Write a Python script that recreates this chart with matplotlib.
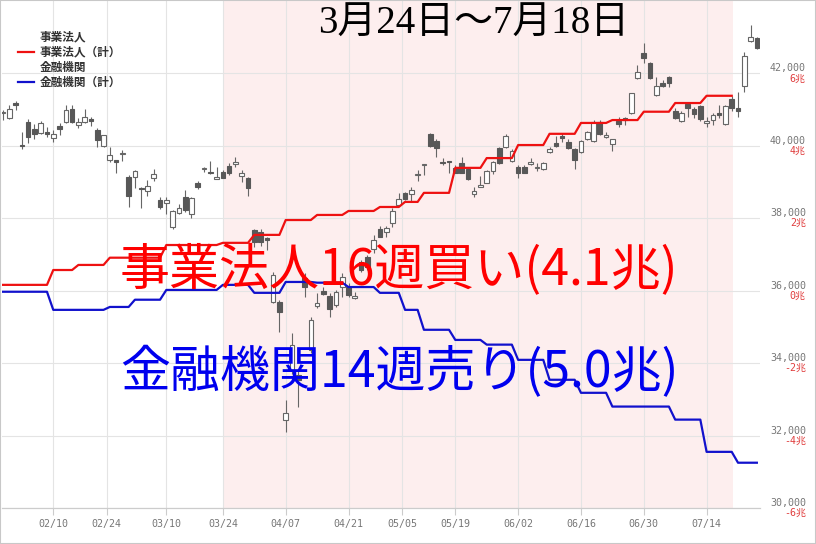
import numpy as np
import pandas as pd
import matplotlib
matplotlib.use('Agg')
import matplotlib.pyplot as plt
from matplotlib.lines import Line2D
from matplotlib.patches import Rectangle

# 取引日 (2025/01/29 - 2025/07/25)
start, end = '2025-01-29', '2025-07-25'
holidays = ['2025-02-11', '2025-02-24', '2025-03-20', '2025-04-29',
            '2025-05-05', '2025-05-06', '2025-07-21']

# 日足 (四本値)
opens = [40900, 40770, 41180, 40010, 40660, 40460, 40350, 40380, 40220, 40550,
         40660, 41020, 40570, 40660, 40740, 40440, 40000, 39610, 39590, 39760,
         39140, 39140, 38820, 38750, 39110, 38510, 38420, 37760, 38150, 38590,
         38120, 38970, 39350, 39260, 39090, 39280, 39440, 39510, 39170, 39110,
         37680, 37620, 37460, 35690, 35690, 32440, 33820, 33680, 36350, 34370,
         35580, 36000, 35860, 35610, 36110, 36110, 35800, 36800, 36930, 37150,
         37710, 37620, 37870, 38370, 38700, 38670, 39180, 39480, 40330, 40130,
         39560, 39560, 39390, 39530, 39360, 38670, 38880, 38970, 39310, 39940,
         39970, 39580, 39420, 39420, 39500, 39380, 39360, 39830, 40080, 40270,
         40110, 39910, 39830, 40190, 40130, 40660, 40260, 40050, 40690, 40770,
         40910, 41870, 42560, 42290, 41400, 41730, 41900, 40960, 40690, 41150,
         41020, 41100, 40630, 40710, 40910, 40600, 41290, 41040, 41650, 42890,
         42980]
highs = [40990, 41130, 41240, 40380, 40740, 40600, 40690, 40520, 40440, 40630,
         41130, 41130, 40770, 41020, 40800, 40490, 40310, 39970, 39610, 39890,
         39200, 39330, 38860, 39060, 39360, 38590, 38590, 38220, 38400, 38780,
         38590, 39030, 39420, 39580, 39420, 39330, 39530, 39690, 39330, 39140,
         37710, 37710, 37470, 36520, 35750, 32990, 34840, 33820, 36490, 35280,
         35940, 36110, 35940, 36020, 36490, 36220, 35970, 36850, 36990, 37540,
         37790, 37790, 38290, 38700, 38730, 38860, 39330, 39510, 40350, 40190,
         39660, 39570, 39470, 39690, 39390, 38860, 39170, 39330, 39580, 39970,
         40330, 39910, 39470, 39470, 39660, 39530, 39540, 39970, 40270, 40350,
         40190, 39940, 40160, 40400, 40710, 40710, 40380, 40200, 40800, 40800,
         41470, 42230, 42840, 42300, 41900, 41820, 41930, 41040, 40960, 41210,
         41070, 41130, 40800, 40910, 41130, 41130, 41370, 41490, 42590, 43330,
         43000]
lows = [40710, 40740, 40990, 39910, 40080, 40190, 40330, 40240, 40110, 40300,
        40640, 40640, 40490, 40630, 40550, 39970, 39970, 39550, 39250, 39580,
        38310, 38840, 38290, 38620, 39030, 38260, 38120, 37710, 38120, 38170,
        38010, 38810, 39280, 39220, 39070, 39100, 39200, 39420, 39000, 38620,
        37210, 37240, 37130, 35660, 34860, 32110, 33710, 32800, 35830, 34290,
        35530, 35880, 35280, 35550, 35830, 35830, 35770, 36520, 36580, 37040,
        37470, 37480, 37760, 38340, 38510, 38450, 39030, 39200, 39970, 39690,
        39470, 39250, 39240, 39240, 39060, 38590, 38860, 38960, 39220, 39500,
        39940, 39550, 39110, 39240, 39470, 39310, 39330, 39800, 39970, 40110,
        39910, 39360, 39810, 40160, 40110, 40300, 40220, 39860, 40520, 40570,
        40880, 41840, 42290, 41840, 41370, 41620, 41620, 40740, 40660, 40800,
        40770, 40690, 40520, 40570, 40770, 40570, 40960, 40800, 41490, 42860,
        42670]
closes = [40920, 41020, 41130, 39980, 40240, 40330, 40630, 40330, 40330, 40460,
          40990, 40660, 40660, 40800, 40690, 40160, 40300, 39750, 39570, 39790,
          38620, 39310, 38800, 38890, 39220, 38310, 38510, 38200, 38290, 38230,
          38560, 38860, 39370, 39240, 39140, 39110, 39250, 39540, 39250, 38840,
          37350, 37350, 37400, 36440, 35420, 32630, 34510, 33540, 36110, 35200,
          35660, 35910, 35500, 35970, 36380, 35880, 35860, 36580, 36660, 37400,
          37480, 37730, 38200, 38530, 38530, 38780, 39210, 39500, 40000, 39940,
          39540, 39550, 39250, 39250, 39090, 38750, 38900, 39310, 39550, 39530,
          40270, 39860, 39250, 39250, 39550, 39400, 39530, 39910, 40000, 40220,
          39940, 39610, 40130, 40380, 40660, 40330, 40280, 40190, 40600, 40710,
          41460, 42040, 42420, 41870, 41650, 41650, 41730, 40770, 40910, 41040,
          40880, 40740, 40690, 40850, 40850, 41100, 41040, 40960, 42480, 43000,
          42700]

# 週次の累計 (兆円)  週の開始日 2025/01/27 から
corp_cum = [0.16, 0.16, 0.57, 0.71, 0.91, 0.91, 1.26, 1.26, 1.32, 1.54,
            1.95, 2.09, 2.20, 2.31, 2.45, 2.70, 3.39, 3.66, 4.02, 4.33,
            4.63, 4.71, 4.94, 5.18, 5.38]
fin_cum = [-0.03, -0.03, -0.53, -0.53, -0.45, -0.25, 0.02, 0.02, 0.16, -0.06,
           0.24, 0.22, 0.10, -0.06, -0.53, -1.08, -1.36, -1.49, -1.91, -2.46,
           -2.82, -3.20, -3.20, -3.56, -4.45, -4.75]

tick_dates = ['2025-02-10', '2025-02-24', '2025-03-10', '2025-03-24', '2025-04-07',
              '2025-04-21', '2025-05-05', '2025-05-19', '2025-06-02', '2025-06-16',
              '2025-06-30', '2025-07-14']
tick_labels = ['02/10', '02/24', '03/10', '03/24', '04/07', '04/21', '05/05',
               '05/19', '06/02', '06/16', '06/30', '07/14']
price_ticks = [30000, 32000, 34000, 36000, 38000, 40000, 42000]
cho_ticks = [-6, -4, -2, 0, 2, 4, 6]

legend_labels = ['事業法人', '事業法人（計）', '金融機関', '金融機関（計）']
legend_colors = [None, '#ee1111', None, '#1111cc']

shade_from, shade_to = '2025-03-24', '2025-07-18'
title = '3月24日～7月18日'
corp_text = '事業法人16週買い(4.1兆)'
fin_text = '金融機関14週売り(5.0兆)'

days = pd.bdate_range(start, end)
days = days[~days.isin(pd.to_datetime(holidays))]
x = np.arange(len(days))
week = ((days - pd.Timestamp('2025-01-27')).days // 7).to_numpy()


def pos(d):
    d = pd.Timestamp(d)
    i = days.searchsorted(d)
    return i if days[i] == d else i - 0.5


cjk = 'Noto Sans CJK JP'
mono = ['DejaVu Sans Mono', cjk]
W, H = 816, 544

fig = plt.figure(figsize=(W / 100, H / 100), dpi=100)
ax = fig.add_axes([2 / W, 36 / H, 758 / W, 508 / H])
ax2 = ax.twinx()

ax.axvspan(pos(shade_from), pos(shade_to) + 0.25, color='#fdeeee', zorder=0, lw=0)

# ローソク足
o, h, l, c = map(np.array, (opens, highs, lows, closes))
up = c >= o
body = np.maximum(np.abs(c - o), 30)
bottom = np.minimum(o, c) - (body - np.abs(c - o)) / 2
ax.vlines(x, l, h, color='#666666', lw=0.8, zorder=2)
ax.bar(x[up], body[up], bottom=bottom[up], width=0.74, color='white',
       edgecolor='#666666', lw=0.8, zorder=3)
ax.bar(x[~up], body[~up], bottom=bottom[~up], width=0.74, color='#585858',
       edgecolor='#585858', lw=0.8, zorder=3)

# 累計線
corp_daily = np.array([corp_cum[w] if w < len(corp_cum) else np.nan for w in week])
fin_daily = np.array([fin_cum[w] if w < len(fin_cum) else np.nan for w in week])
ax2.plot(x, corp_daily, color='#ee1111', lw=1.6, zorder=4)
ax2.plot(x, fin_daily, color='#1111cc', lw=1.6, zorder=4)

ax.set_xlim(-0.16, 120.5)
ax.set_ylim(30000, 44024)
ax2.set_ylim(-6, 8.024)

ax.set_xticks([pos(d) for d in tick_dates], tick_labels, family=mono)
ax.tick_params(axis='x', length=5, color='#cccccc', pad=3, labelsize=7.2,
               labelcolor='#777777')

ax.yaxis.set_ticks_position('right')
ax.set_yticks(price_ticks, [f'{t:,}' for t in price_ticks], ha='right', va='bottom',
              family=mono)
ax.tick_params(axis='y', length=0, pad=33, labelsize=7.2, labelcolor='#777777')
ax2.set_yticks(cho_ticks, [f'{t}兆' for t in cho_ticks], ha='right', va='top',
               family=mono)
ax2.tick_params(axis='y', length=0, pad=33, labelsize=7.2, labelcolor='#e03c3c')

ax.set_axisbelow(True)
ax.grid(True, color='#e4e4e4', lw=0.8)
for a in (ax, ax2):
    for s in ('left', 'right', 'top'):
        a.spines[s].set_visible(False)
    a.spines['bottom'].set_color('#cccccc')

# 凡例
for i, (lab, col) in enumerate(zip(legend_labels, legend_colors)):
    yy = 1 - (37 + 15 * i) / H
    fig.text(40 / W, yy, lab, ha='left', va='center', fontsize=8.4, family=cjk,
             color='#333333', weight='bold')
    if col:
        fig.add_artist(Line2D([18 / W, 34 / W], [yy, yy], color=col, lw=1.6))

fig.text(474 / W, 1 - 24 / H, title, ha='center', va='center', fontsize=28,
         family=['Liberation Serif', cjk], color='black')
fig.text(120 / W, 1 - 271 / H, corp_text, ha='left', va='center', fontsize=36,
         family=cjk, color='#ff0000', zorder=10)
fig.text(120 / W, 1 - 373 / H, fin_text, ha='left', va='center', fontsize=36,
         family=cjk, color='#0000ee', zorder=10)

fig.patches.append(Rectangle((0, 0), 1, 1, transform=fig.transFigure, fill=False,
                             edgecolor='#c8c8c8', lw=1.5))

fig.savefig('out.png', dpi=100)
